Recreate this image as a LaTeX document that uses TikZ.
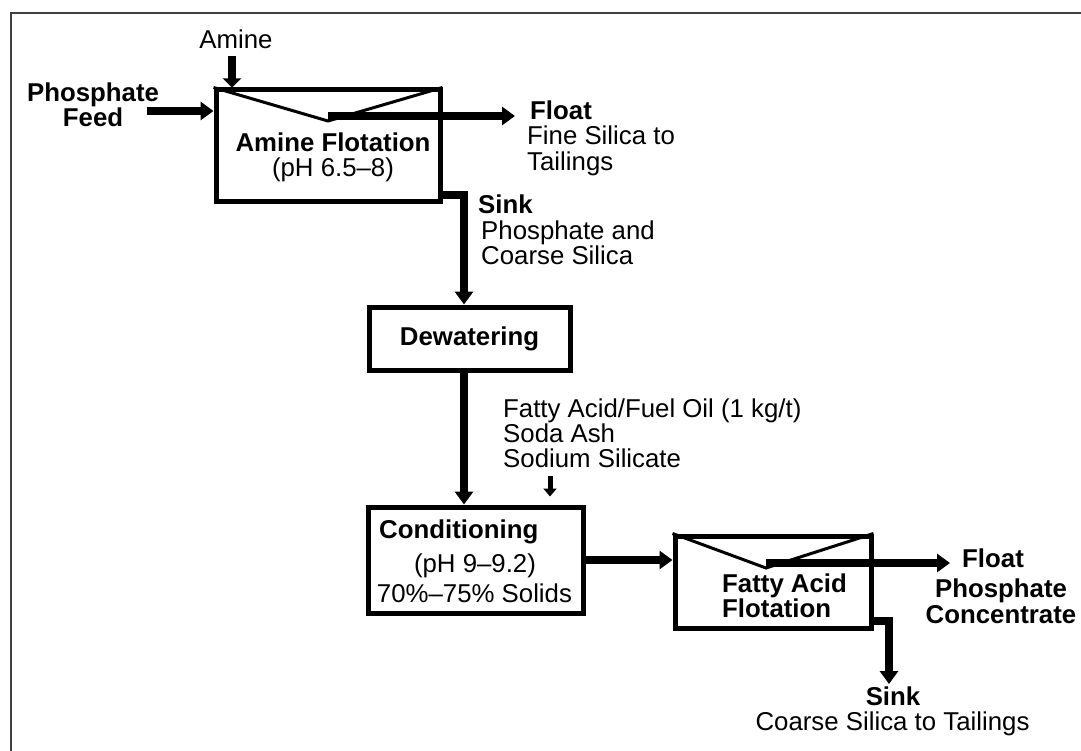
\documentclass[tikz,border=0pt]{standalone}
\usepackage{fontspec}
\setmainfont{Liberation Sans}
\usetikzlibrary{arrows.meta,positioning}

\begin{document}
\begin{tikzpicture}[x=1pt,y=-1pt,every node/.style={font=\fontsize{25.8}{26}\selectfont,inner sep=0pt},
  unit/.style={draw,line width=5pt},
  txt/.style={anchor=base west},
  txtc/.style={anchor=base},
  flow/.style={line width=8pt,line join=miter,-{Triangle[length=13pt,width=18pt]}},
  dose/.style={line width=5pt,-{Triangle[length=8pt,width=13pt]}}]
\useasboundingbox (0,0) rectangle (1081,751);
\draw[line width=2pt,black!75] (11,751)--(11,13)--(1081,13);
% amine flotation
\node[txtc] (amine) at (236,49) {Amine};
\node[txtc] (feed1) at (93,102) {\textbf{Phosphate}};
\node[txtc] (feed2) at (93,127) {\textbf{Feed}};
\node[unit,minimum width=224pt,minimum height=112pt] (amfl) at (328,146) {};
\node[txtc] (amfl1) at (333,152) {\textbf{Amine Flotation}};
\node[txtc] (amfl2) at (333,177) {(pH 6.5--8)};
\node[txt] (fl1a) at (530,120) {\textbf{Float}};
\node[txt] (fl1b) at (527,145) {Fine Silica to};
\node[txt] (fl1c) at (527,171) {Tailings};
\node[txt] (sk1a) at (478,214) {\textbf{Sink}};
\node[txt] (sk1b) at (481,240) {Phosphate and};
\node[txt] (sk1c) at (481,265) {Coarse Silica};
% dewatering and conditioning
\node[unit,minimum width=201pt,minimum height=63pt] (dewat) at (469.5,338.5) {\textbf{Dewatering}};
\node[txt] (reag1) at (503,417) {Fatty Acid/Fuel Oil (1 kg/t)};
\node[txt] (reag2) at (503,442) {Soda Ash};
\node[txt] (reag3) at (503,467) {Sodium Silicate};
\node[unit,minimum width=215pt,minimum height=106pt] (cond) at (475.5,560) {};
\node[txt] (cond1) at (379,538) {\textbf{Conditioning}};
\node[txtc] (cond2) at (475,572) {(pH 9--9.2)};
\node[txtc] (cond3) at (474.5,602) {70\%--75\% Solids};
% fatty acid flotation
\node[unit,minimum width=196pt,minimum height=92pt] (fafl) at (773,582) {};
\node[txt] (fafl1) at (722,592) {\textbf{Fatty Acid}};
\node[txt] (fafl2) at (722,617) {\textbf{Flotation}};
\node[txt] (fl2a) at (962,567) {\textbf{Float}};
\node[txtc] (fl2b) at (1001,597) {\textbf{Phosphate}};
\node[txtc] (fl2c) at (1001,623) {\textbf{Concentrate}};
\node[txtc] (sk2a) at (893,705) {\textbf{Sink}};
\node[txtc] (sk2b) at (892.5,730) {Coarse Silica to Tailings};
% cells
\coordinate (amv) at (328,121);
\coordinate (fav) at (766,568);
\draw[line width=3pt] (amfl.north west)--(amv)--(amfl.north east);
\draw[line width=3pt] (fafl.north west)--(fav)--(fafl.north east);
% streams
\coordinate (amx) at (232,56);
\coordinate (feedin) at (147,111);
\coordinate (fl1in) at (515,116);
\coordinate (col) at (464,0);
\coordinate (dosex) at (550,476);
\coordinate (fl2in) at (950,563);
\coordinate (sk2in) at (889,684);
\draw[flow,-{Triangle[length=9pt,width=18pt]}] (amx)--(amfl.north -| amx);
\draw[flow] (feedin)--(amfl.west |- feedin);
\draw[flow] (amv |- fl1in)--(fl1in);
\draw[flow] ([yshift=9pt]amfl.south east) -| (dewat.north -| col);
\draw[flow] (dewat.south -| col)--(cond.north -| col);
\draw[dose,shorten >=8pt] (dosex)--(cond.north -| dosex);
\draw[flow] (cond.east)--(fafl.west |- cond.east);
\draw[flow] (fav |- fl2in)--(fl2in);
\draw[flow] ([yshift=10pt]fafl.south east) -| (sk2in);
\end{tikzpicture}
\end{document}
